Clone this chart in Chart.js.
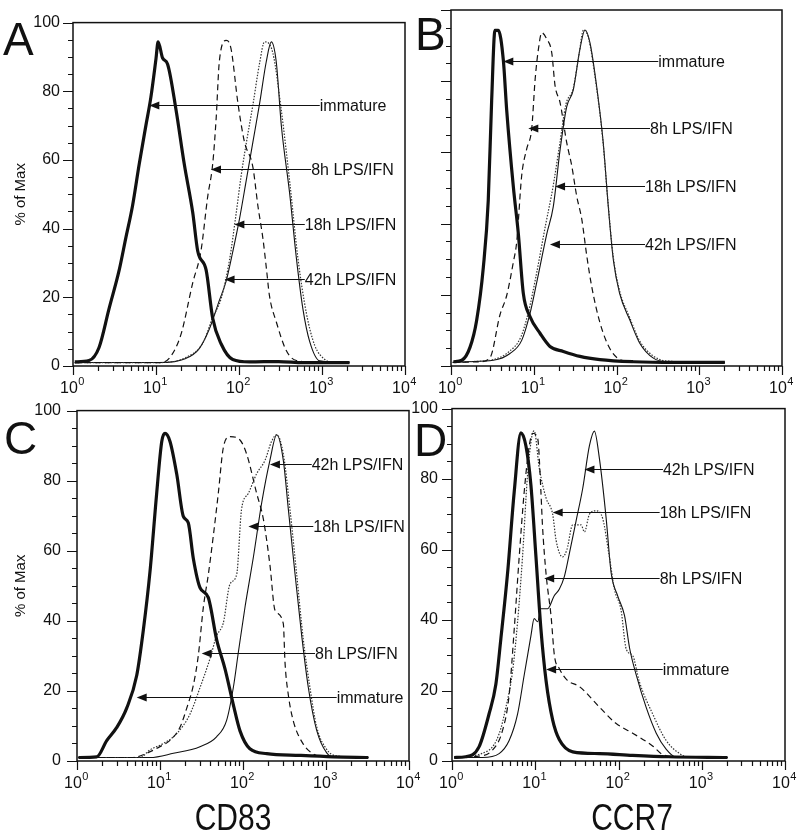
<!DOCTYPE html>
<html>
<head>
<meta charset="utf-8">
<script src="https://cdn.jsdelivr.net/npm/chart.js@4.4.1/dist/chart.umd.min.js"></script>
<style>
  body { margin: 0; background: #fff; }
  #wrap { position: relative; width: 800px; height: 835px; overflow: hidden; }
  canvas { position: absolute; }
</style>
</head>
<body>
<div id="wrap">
  <canvas id="panelA" width="425" height="400" style="left:0;top:0"></canvas>
  <canvas id="panelB" width="390" height="400" style="left:410px;top:0"></canvas>
  <canvas id="panelC" width="425" height="450" style="left:0;top:385px"></canvas>
  <canvas id="panelD" width="400" height="450" style="left:400px;top:385px"></canvas>
</div>
<script>
// x = fluorescence intensity (log), y = % of max

// Panel A - CD83, first donor
var aImmX = [1.05, 1.56, 2.06, 2.72, 3.6, 4.33, 5.21, 6.28, 7.55, 8.68, 10, 10.6, 12.0, 13.8, 17.4, 21.9, 27.7, 31.8, 40.2, 48.2, 61, 84, 134, 300, 600, 1200, 2150];
var aImmY = [1.2, 1.6, 5.4, 16.7, 27.9, 37.3, 46.6, 58.8, 70, 78.3, 89.5, 94.4, 89.7, 87.9, 74.7, 58.8, 44.7, 33.5, 27.9, 13.9, 6.4, 1.9, 1.2, 1.3, 1.0, 1.0, 1.0];
var a8hX = [1.05, 5, 10.9, 14.5, 20, 27.7, 34.8, 42, 48.2, 53, 58, 70, 80, 97, 116, 147, 169, 194, 213, 233, 281, 371, 491, 1000, 2150];
var a8hY = [1, 1, 1, 2.3, 9.2, 24.2, 33.5, 49.4, 58.8, 71.9, 88.8, 94.8, 92.5, 76.6, 65.4, 57.9, 46.6, 37.2, 28.8, 20.4, 12.9, 4.5, 1.6, 1, 1];
var a18hX = [1.05, 10.9, 22.9, 36.5, 48.2, 61, 77, 92, 106, 122, 147, 177, 203, 256, 324, 408, 514, 648, 817, 1080, 1350, 2150];
var a18hY = [1, 1, 2.5, 6.6, 14.1, 19.7, 31, 44.1, 55.3, 64.7, 76, 88.2, 94.4, 91.1, 74.3, 53.7, 31.2, 15.4, 6, 1.9, 1, 1];
var a42hX = [1.05, 10.9, 22.9, 33, 43.8, 58, 70, 84, 101, 122, 147, 177, 213, 245, 281, 324, 408, 491, 590, 711, 939, 2150];
var a42hY = [1, 1, 2.2, 5, 10.7, 19.1, 24.7, 33.2, 42.6, 53.9, 65.2, 76.4, 88.6, 94.4, 88.6, 69.9, 50.2, 31.5, 16.5, 7.1, 1.5, 1];

// Panel B - CCR7, first donor
var bImmX = [1.07, 1.35, 1.7, 2.04, 2.46, 2.82, 3.1, 3.4, 3.73, 4.29, 4.71, 5.67, 6.51, 7.48, 9.0, 11.9, 15.7, 22.8, 36.2, 63, 160, 500, 2040];
var bImmY = [1.2, 1.6, 5.3, 12.8, 27.8, 46.5, 74.6, 94.3, 94.3, 85.9, 71.9, 50.3, 37.2, 20.4, 13.9, 9.2, 5.5, 4.1, 2.7, 1.8, 1.2, 1, 1];
var b8hX = [1.05, 2.24, 2.96, 3.91, 4.71, 5.67, 6.22, 7.15, 8.22, 9.44, 10.4, 11.4, 12.5, 14.4, 16.5, 18.1, 20.8, 25, 28.8, 33, 38, 43.7, 50, 63, 84, 120, 200, 2040];
var b8hY = [1, 1.2, 2.3, 14.4, 19.8, 29.2, 34.8, 53.5, 61, 66.6, 80.6, 89.1, 93.6, 91.8, 88, 78.7, 74, 62.8, 56.2, 47.8, 41.3, 31, 22.5, 12.2, 4.7, 1.5, 1.2, 1];
var b18hX = [1.05, 1.55, 3.25, 5.0, 7.0, 8.8, 10.6, 14, 17, 20.5, 24.5, 30, 35, 40, 46, 56, 68, 79, 91, 108, 145, 191, 279, 404, 2040];
var b18hY = [1, 1.2, 1.8, 4, 8.2, 16, 25, 40, 50, 62, 73.5, 78, 87, 94.4, 92, 80, 64, 46, 31, 21.5, 13.5, 7, 2.8, 1.4, 1];
var b42hX = [1.05, 1.55, 3.25, 5.16, 7.15, 9.0, 10.8, 14.4, 17.2, 20.8, 25, 30, 36, 41.6, 47.9, 57.6, 69.3, 79.6, 91.6, 109, 145, 191, 279, 404, 2040];
var b42hY = [1, 1.2, 1.6, 3.5, 7.2, 14.7, 23.2, 37.2, 44.7, 60.7, 72.8, 77.5, 88.8, 94.4, 90.7, 78.5, 62.5, 44.7, 29.8, 20.4, 12.9, 6.4, 2.2, 1.2, 1];

// Panel C - CD83, second donor
var cImmX = [1.04, 1.73, 2.28, 3.0, 3.97, 5.24, 6.3, 7.58, 9.12, 10.5, 11.5, 13.2, 15.9, 19.1, 21.9, 25.2, 30.3, 38.1, 48.2, 60.7, 76.4, 92, 121, 193, 486, 1225, 3240];
var cImmY = [1, 1.2, 5.8, 9.5, 15.1, 24.4, 37.4, 54.1, 76.4, 91.2, 93.5, 91.2, 81.9, 69.8, 68, 57.8, 49.5, 46.7, 34.6, 26.3, 16.1, 8.6, 3.5, 2.1, 1.6, 1.2, 1];
var c8hX = [1.04, 4.77, 6.9, 10, 13.2, 17.4, 21, 25.2, 28.9, 33.3, 38.2, 43.9, 50.4, 57.9, 69.7, 92, 111, 146, 176, 211, 243, 306, 321, 352, 404, 533, 703, 1000, 3240];
var c8hY = [1, 1, 2.2, 4.1, 5.9, 9.6, 15.1, 21.6, 30, 43.9, 53.2, 64.3, 76.4, 89.4, 92.6, 91.6, 87.5, 76.4, 69, 56, 43, 39.2, 28, 18.8, 11.4, 4.8, 2, 1, 1];
var c18hX = [1.04, 5.75, 7.6, 11, 15.9, 23, 30.3, 40, 48, 57.9, 69.7, 84, 96, 116, 146, 184, 221, 255, 306, 368, 443, 533, 641, 771, 1020, 1300, 3240];
var c18hY = [1, 1, 3.2, 5, 7.8, 13.4, 20.9, 29.2, 35.7, 39.4, 50.5, 53.3, 71.8, 76.4, 82, 85.8, 91.2, 93.1, 87.6, 71.8, 53.3, 34.6, 20.9, 9.8, 3.3, 1.5, 1];
var c42hX = [1.04, 7.6, 14.5, 30.3, 48, 63.5, 76.4, 88, 106, 133, 168, 211, 255, 306, 352, 424, 510, 613, 771, 1020, 1300, 3240];
var c42hY = [1, 1, 2.2, 4.1, 6.9, 11.6, 20.9, 31.1, 44.1, 58, 73.7, 85.8, 93.1, 85.8, 71.8, 53.3, 35.7, 20.9, 8.8, 2.3, 1, 1];

// Panel D - CCR7, second donor
var dImmX = [1.06, 1.46, 2.11, 2.79, 3.36, 3.86, 4.65, 5.59, 6.73, 7.73, 8.87, 10.2, 11.7, 13.5, 16.2, 19.5, 28.2, 59, 148, 400, 2040];
var dImmY = [1, 1.2, 4, 13.4, 21.7, 34.6, 53.3, 76.4, 93.1, 89.4, 78.3, 57.9, 37.4, 22.7, 11.6, 6, 2.6, 2.1, 1.6, 1.2, 1];
var d8hX = [1.06, 1.93, 3.06, 4.04, 4.86, 5.59, 6.41, 7.37, 8.47, 9.3, 10.7, 11.7, 12.2, 13.5, 15.5, 17, 19.5, 24, 34, 59, 93, 148, 259, 330, 500, 2040];
var d8hY = [1, 1.3, 3.1, 8.6, 18.8, 37.4, 57.8, 76.4, 89.4, 93, 91.5, 76.4, 67, 53, 41, 29.9, 26.2, 23, 21.1, 15.3, 10.7, 7.9, 4.2, 2, 1.2, 1];
var d18hX = [1.06, 2.79, 3.68, 4.43, 5.33, 6.12, 7.03, 8.07, 9.12, 9.7, 11.2, 13.5, 16.2, 17.8, 21.3, 24, 28.2, 35.5, 39, 44.7, 53.8, 64.6, 77.7, 89.6, 107, 124, 148, 178, 259, 374, 543, 700, 2040];
var d18hY = [1, 3.1, 7.7, 15.1, 25.3, 39.2, 57.9, 81, 92.2, 93.7, 83, 74.6, 70, 62.6, 57.9, 60, 67, 67, 65, 70, 71, 68.8, 57.9, 48.6, 43, 31.7, 29.9, 22.5, 13.2, 5.8, 2.1, 1, 1];
var d42hX = [1.06, 2.32, 3.68, 4.86, 6.12, 7.37, 8.87, 9.7, 10.7, 11.7, 14.1, 16.9, 19.5, 22.4, 25.7, 30.9, 37.2, 44.7, 51.3, 59, 71, 81.7, 98, 118, 136, 163, 215, 284, 375, 480, 2040];
var d42hY = [1, 1, 2.1, 5.8, 13.2, 24.4, 35.5, 40.4, 39.5, 43.2, 43.2, 46.9, 48.8, 52.4, 58.9, 68.1, 77.4, 89.4, 93.6, 85.8, 69, 53.3, 46.8, 41.3, 32, 24.5, 15.2, 7.9, 3.3, 1.2, 1];

// arrow labels: text, arrow tip (x), text start (x), height (y)
var abLabels = ['immature', '8h LPS/IFN', '18h LPS/IFN', '42h LPS/IFN'];
var aTipX = [8.3, 46, 88, 67];
var aTextX = [940, 740, 620, 620];
var aArrowY = [76.1, 57.4, 41.3, 25.3];
var bTipX = [4.29, 8.6, 18.1, 15.7];
var bTextX = [320, 254, 221, 221];
var bArrowY = [85.7, 66.9, 50.6, 34.2];
var cdLabels = ['42h LPS/IFN', '18h LPS/IFN', '8h LPS/IFN', 'immature'];
var cTipX = [211, 116, 31.8, 5.24];
var cTextX = [673, 703, 737, 1345];
var cArrowY = [84.8, 67.1, 30.9, 18.4];
var dTipX = [39, 16.2, 12.8, 13.5];
var dTextX = [342, 312, 312, 340];
var dArrowY = [82.9, 70.7, 51.8, 26.2];

var decades = [1, 10, 100, 1000, 10000];
var decadeExp = ['0', '1', '2', '3', '4'];

var FONT = '"Liberation Sans", Arial, Helvetica, sans-serif';
var INK = '#111';
Chart.defaults.font.family = FONT;
Chart.defaults.color = INK;

function toPoints(xs, ys) {
    var pts = [];
    for (var i = 0; i < xs.length; i++) {
        pts.push({x: xs[i], y: ys[i]});
    }
    return pts;
}

// frame, tick marks, x labels, arrows and panel captions
var decorPlugin = {
    id: 'decor',
    afterDraw: function (chart) {
        var o = chart.options.plugins.decor;
        var ctx = chart.ctx;
        var area = chart.chartArea;
        var xs = chart.scales.x;
        var ys = chart.scales.y;
        var i, px, py;
        ctx.save();
        ctx.strokeStyle = INK;
        ctx.fillStyle = INK;

        ctx.lineWidth = 1.5;
        ctx.strokeRect(area.left, area.top, area.right - area.left, area.bottom - area.top);

        ctx.lineWidth = 1.2;
        ctx.beginPath();
        for (var v = 0; v <= 100; v += 5) {
            py = Math.round(ys.getPixelForValue(v)) + 0.5;
            ctx.moveTo(area.left - (v % 20 === 0 ? 10 : 5), py);
            ctx.lineTo(area.left, py);
        }
        for (i = 0; i < decades.length; i++) {
            for (var m = 1; m < 10; m++) {
                if (i === decades.length - 1 && m > 1) break;
                px = Math.round(xs.getPixelForValue(decades[i] * m)) + 0.5;
                ctx.moveTo(px, area.bottom);
                ctx.lineTo(px, area.bottom + (m === 1 ? 9 : 5));
            }
        }
        ctx.stroke();

        // 10^n labels
        ctx.textBaseline = 'alphabetic';
        ctx.textAlign = 'left';
        for (i = 0; i < decades.length; i++) {
            px = xs.getPixelForValue(decades[i]);
            ctx.font = '16px ' + FONT;
            var w1 = ctx.measureText('10').width;
            ctx.font = '11px ' + FONT;
            var w2 = ctx.measureText(decadeExp[i]).width;
            var x0 = px - (w1 + w2) / 2 - 1;
            ctx.font = '16px ' + FONT;
            ctx.fillText('10', x0, area.bottom + 27);
            ctx.font = '11px ' + FONT;
            ctx.fillText(decadeExp[i], x0 + w1 + 0.5, area.bottom + 19);
        }

        // arrows with labels
        ctx.lineWidth = 1.1;
        ctx.font = '16px ' + FONT;
        ctx.textBaseline = 'middle';
        for (i = 0; i < o.labels.length; i++) {
            var tip = xs.getPixelForValue(o.tipX[i]);
            var start = xs.getPixelForValue(o.textX[i]);
            py = Math.round(ys.getPixelForValue(o.arrowY[i])) + 0.5;
            ctx.beginPath();
            ctx.moveTo(start, py);
            ctx.lineTo(tip + 8, py);
            ctx.stroke();
            ctx.beginPath();
            ctx.moveTo(tip, py);
            ctx.lineTo(tip + 10, py - 4);
            ctx.lineTo(tip + 10, py + 4);
            ctx.closePath();
            ctx.fill();
            ctx.fillText(o.labels[i], start, py + 1);
        }

        // panel letter
        ctx.textBaseline = 'alphabetic';
        ctx.font = '46px ' + FONT;
        ctx.fillText(o.letter, o.letterX, o.letterY);

        // marker name under the lower panels
        if (o.marker) {
            ctx.translate(o.markerX, o.markerY);
            ctx.scale(1, 1.25);
            ctx.textAlign = 'center';
            ctx.font = '30px ' + FONT;
            ctx.fillText(o.marker, 0, 0);
        }
        ctx.restore();
    }
};

function makePanel(id, cfg) {
    var ctx = document.getElementById(id).getContext('2d');
    return new Chart(ctx, {
        type: 'line',
        data: {
            datasets: [
                {data: toPoints(cfg.immX, cfg.immY), borderColor: INK, borderWidth: 3.2},
                {data: toPoints(cfg.x8, cfg.y8), borderColor: INK, borderWidth: 1.2, borderDash: [6, 4]},
                {data: toPoints(cfg.x18, cfg.y18), borderColor: '#333', borderWidth: 1.2, borderDash: [1.5, 1.5]},
                {data: toPoints(cfg.x42, cfg.y42), borderColor: INK, borderWidth: 1.1}
            ]
        },
        options: {
            responsive: false,
            animation: false,
            events: [],
            datasets: {line: {pointRadius: 0, fill: false, cubicInterpolationMode: 'monotone'}},
            layout: {padding: cfg.padding},
            plugins: {
                legend: {display: false},
                tooltip: {enabled: false},
                decor: cfg.decor
            },
            scales: {
                x: {
                    type: 'logarithmic',
                    min: 1,
                    max: 10000,
                    grid: {display: false, drawTicks: false},
                    border: {display: false},
                    ticks: {display: false},
                    afterFit: function (s) { s.height = cfg.xHeight; }
                },
                y: {
                    min: 0,
                    max: 100,
                    grid: {display: false, drawTicks: false},
                    border: {display: false},
                    ticks: {display: cfg.yLabels, stepSize: 20, padding: cfg.yPad, font: {size: 16}, color: INK},
                    title: {display: cfg.yTitle, text: '% of Max', font: {size: 15}, color: INK, padding: {top: 12, bottom: 0}},
                    afterFit: function (s) { s.width = cfg.yWidth; }
                }
            }
        },
        plugins: [decorPlugin]
    });
}

makePanel('panelA', {
    immX: aImmX, immY: aImmY, x8: a8hX, y8: a8hY, x18: a18hX, y18: a18hY, x42: a42hX, y42: a42hY,
    padding: {top: 10, right: 20, bottom: 0, left: 0},
    xHeight: 34, yWidth: 73, yLabels: true, yTitle: true, yPad: 13,
    decor: {labels: abLabels, tipX: aTipX, textX: aTextX, arrowY: aArrowY, letter: 'A', letterX: 3, letterY: 55}
});
makePanel('panelB', {
    immX: bImmX, immY: bImmY, x8: b8hX, y8: b8hY, x18: b18hX, y18: b18hY, x42: b42hX, y42: b42hY,
    padding: {top: 10, right: 18, bottom: 0, left: 0},
    xHeight: 34, yWidth: 41, yLabels: false, yTitle: false, yPad: 13,
    decor: {labels: abLabels, tipX: bTipX, textX: bTextX, arrowY: bArrowY, letter: 'B', letterX: 5, letterY: 50}
});
makePanel('panelC', {
    immX: cImmX, immY: cImmY, x8: c8hX, y8: c8hY, x18: c18hX, y18: c18hY, x42: c42hX, y42: c42hY,
    padding: {top: 17, right: 16, bottom: 0, left: 0},
    xHeight: 74, yWidth: 77, yLabels: true, yTitle: true, yPad: 16,
    decor: {labels: cdLabels, tipX: cTipX, textX: cTextX, arrowY: cArrowY, letter: 'C', letterX: 4, letterY: 69,
            marker: 'CD83', markerX: 233, markerY: 445}
});
makePanel('panelD', {
    immX: dImmX, immY: dImmY, x8: d8hX, y8: d8hY, x18: d18hX, y18: d18hY, x42: d42hX, y42: d42hY,
    padding: {top: 17, right: 15, bottom: 0, left: 0},
    xHeight: 74, yWidth: 52, yLabels: true, yTitle: false, yPad: 14,
    decor: {labels: cdLabels, tipX: dTipX, textX: dTextX, arrowY: dArrowY, letter: 'D', letterX: 14, letterY: 71,
            marker: 'CCR7', markerX: 232, markerY: 445}
});
</script>
</body>
</html>
